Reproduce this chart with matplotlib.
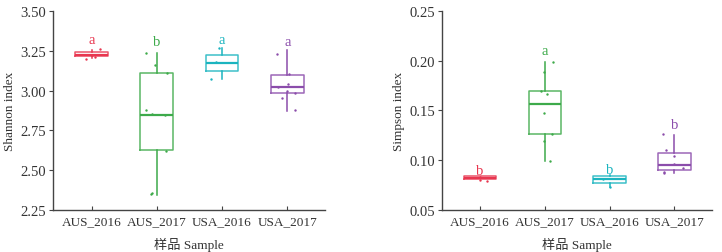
import matplotlib
matplotlib.use("Agg")
import matplotlib.pyplot as plt

plt.rcParams['font.family'] = ['Liberation Serif', 'Noto Sans CJK SC']
plt.rcParams['font.size'] = 9.5

groups = ["AUS_2016", "AUS_2017", "USA_2016", "USA_2017"]
colors = ["#E8364F", "#3DAA4A", "#1BB4BF", "#8B4DAB"]

# Shannon box stats: whislo, q1, med, q3, whishi
shannon_stats = [
    [3.205, 3.215, 3.225, 3.245, 3.255],
    [2.344, 2.626, 2.848, 3.112, 3.235],
    [3.075, 3.122, 3.175, 3.220, 3.265],
    [2.870, 2.982, 3.022, 3.100, 3.252],
]
shannon_points = [
    [3.20, 3.21, 3.262, 3.225],
    [3.235, 3.16, 3.11, 2.88, 2.855, 2.845, 2.62, 2.35, 2.355],
    [3.27, 3.18, 3.07],
    [3.23, 3.105, 3.04, 3.025, 3.0, 2.985, 2.95, 2.875],
]
shannon_jitter = [
    [-0.08, 0.05, 0.13, 0.0],
    [-0.17, -0.02, 0.15, -0.17, -0.07, 0.13, 0.14, -0.09, -0.08],
    [-0.05, -0.1, -0.17],
    [-0.16, 0.02, 0.01, -0.15, -0.01, 0.12, -0.08, 0.12],
]
shannon_letters = ["a", "b", "a", "a"]
shannon_letter_y = [3.28, 3.27, 3.28, 3.265]

simpson_stats = [
    [0.0810, 0.0812, 0.0826, 0.0840, 0.0845],
    [0.0988, 0.1259, 0.1564, 0.1697, 0.1988],
    [0.0730, 0.0772, 0.0810, 0.0840, 0.0850],
    [0.0870, 0.0898, 0.0955, 0.1069, 0.1256],
]
simpson_points = [
    [0.0835, 0.0800, 0.0790],
    [0.199, 0.189, 0.170, 0.167, 0.147, 0.126, 0.119, 0.099],
    [0.073, 0.081],
    [0.126, 0.110, 0.104, 0.096, 0.092, 0.088, 0.087],
]
simpson_jitter = [
    [0.0, 0.0, 0.1],
    [0.13, -0.02, -0.06, 0.03, -0.02, 0.11, -0.01, 0.08],
    [0.0, -0.1],
    [-0.17, -0.13, 0.0, 0.0, 0.13, -0.16, -0.16],
]
simpson_letters = ["b", "a", "b", "b"]
simpson_letter_y = [0.0835, 0.204, 0.0845, 0.1295]

fig = plt.figure(figsize=(7.22, 2.53), dpi=100)
ax1 = fig.add_axes([0.0734, 0.166, 0.377, 0.787])
ax2 = fig.add_axes([0.612, 0.166, 0.374, 0.787])


def draw(ax, stats, points, jitter, letters, letter_y, ylim, yticks, ylabel, fmt):
    bxp_stats = []
    for g, s in zip(groups, stats):
        bxp_stats.append(dict(label=g, whislo=s[0], q1=s[1], med=s[2], q3=s[3], whishi=s[4], fliers=[]))
    pos = list(range(len(groups)))
    res = ax.bxp(bxp_stats, positions=pos, widths=0.5, showcaps=False, showfliers=False,
                 patch_artist=False)
    for i, c in enumerate(colors):
        res['boxes'][i].set_color(c)
        res['boxes'][i].set_linewidth(1.1)
        res['boxes'][i].set_alpha(0.85)
        res['medians'][i].set_color(c)
        res['medians'][i].set_linewidth(1.6)
        for w in res['whiskers'][2 * i:2 * i + 2]:
            w.set_color(c)
            w.set_linewidth(1.1)
    for i, (pts, jit) in enumerate(zip(points, jitter)):
        ax.scatter([i + j for j in jit], pts, s=3, color=colors[i], zorder=3, linewidths=0)
        ax.text(i, letter_y[i], letters[i], color=colors[i], ha='center', va='bottom', fontsize=10.5)
    ax.set_xlim(-0.59, 3.58)
    ax.set_ylim(*ylim)
    ax.set_yticks(yticks)
    ax.set_yticklabels([fmt.format(v) for v in yticks])
    ax.set_xticks(pos)
    ax.set_xticklabels(groups)
    for sp in ['top', 'right']:
        ax.spines[sp].set_visible(False)
    for sp in ['left', 'bottom']:
        ax.spines[sp].set_color('#444444')
        ax.spines[sp].set_linewidth(1.0)
    ax.tick_params(axis='y', direction='out', length=3, color='#444444', pad=2, labelsize=10.5,
                   labelcolor='#333333')
    ax.tick_params(axis='x', direction='in', length=3, color='#444444', pad=4, labelsize=9.5,
                   labelcolor='#333333')
    ax.set_ylabel(ylabel, fontsize=9.5, labelpad=3, color='#333333')
    ax.set_xlabel("样品 Sample", fontsize=9.5, labelpad=7, color='#333333')


draw(ax1, shannon_stats, shannon_points, shannon_jitter, shannon_letters, shannon_letter_y,
     (2.25, 3.5), [2.25, 2.5, 2.75, 3.0, 3.25, 3.5], "Shannon index", "{:.2f}")
draw(ax2, simpson_stats, simpson_points, simpson_jitter, simpson_letters, simpson_letter_y,
     (0.05, 0.25), [0.05, 0.10, 0.15, 0.20, 0.25], "Simpson index", "{:.2f}")

fig.savefig("out.png", dpi=100)
